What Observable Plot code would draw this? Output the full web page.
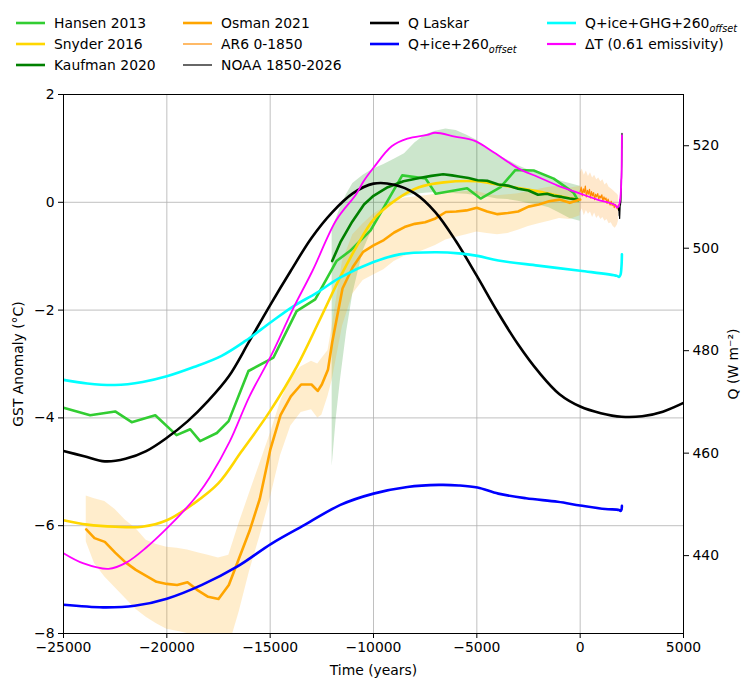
<!DOCTYPE html>
<html><head><meta charset="utf-8">
<script src="https://cdn.jsdelivr.net/npm/d3@7"></script>
<script src="https://cdn.jsdelivr.net/npm/@observablehq/plot@0.6"></script>
<style>
body{margin:0;background:#fff;font-family:"DejaVu Sans",sans-serif;}
#legend{position:relative;width:756px;height:80px;font-size:13.9px;color:#000;}
.item{position:absolute;display:flex;align-items:center;white-space:nowrap;height:20px;}
.item svg{margin-right:9px;flex:none}
.sub{font-size:9.7px;font-style:italic;position:relative;top:4px}
</style></head><body>
<div id="legend"></div><div id="chart"></div>
<script>
// ---------- data ----------
const xTicks = [-25000, -20000, -15000, -10000, -5000, 0, 5000];
const yTicks = [-8, -6, -4, -2, 0, 2];
const qTicks = [440, 460, 480, 500, 520];

const hansenT = [-25000,-23710,-22500,-21700,-20560,-19530,-18870,-18390,-17580,-17010,-16050,-14840,-13720,-12820,-11790,-11130,-10140,-8610,-7480,-6990,-5470,-4820,-3850,-3130,-2250,-1280,-320,-100];
const hansenV = [-3.81,-3.95,-3.88,-4.08,-3.95,-4.32,-4.21,-4.43,-4.28,-4.06,-3.13,-2.88,-2.02,-1.80,-1.09,-0.90,-0.52,0.50,0.44,0.16,0.26,0.07,0.28,0.60,0.59,0.44,0.18,0.03];

const snyderT = [-25000,-23850,-22500,-21200,-20000,-18700,-17500,-16400,-15000,-13700,-12600,-11600,-10800,-10000,-8900,-7800,-6600,-5000,-4000,-2000,-700,-100];
const snyderV = [-5.90,-5.98,-6.02,-6.02,-5.90,-5.59,-5.21,-4.63,-3.87,-3.04,-2.18,-1.38,-0.81,-0.32,0.05,0.28,0.37,0.39,0.33,0.20,0.09,0.05];

const kaufT = [-12000,-11600,-11030,-10460,-10000,-9310,-8550,-7780,-7200,-6630,-6200,-5870,-5400,-4970,-4500,-3960,-3500,-3000,-2500,-2040,-1600,-1280,-900,-510,-130];
const kaufV = [-1.09,-0.74,-0.36,-0.04,0.12,0.28,0.39,0.45,0.49,0.52,0.50,0.48,0.45,0.41,0.40,0.33,0.31,0.25,0.22,0.14,0.16,0.12,0.10,0.07,0.05];
const kaufBandT = [-12000,-11800,-11600,-11300,-11000,-10500,-10000,-9500,-9000,-8500,-8000,-7500,-7000,-6500,-6000,-5500,-5000,-4500,-4000,-3500,-3000,-2500,-2000,-1500,-1000,-500,0];
const kaufHi = [-0.50,-0.30,-0.10,0.15,0.35,0.50,0.62,0.70,0.80,0.90,1.10,1.25,1.32,1.36,1.33,1.25,1.15,1.00,0.88,0.78,0.68,0.60,0.52,0.45,0.40,0.35,0.30];
const kaufLo = [-4.90,-4.00,-3.30,-2.40,-1.70,-0.90,-0.45,-0.15,0.02,0.10,0.15,0.17,0.18,0.18,0.16,0.15,0.12,0.10,0.06,0.05,0.02,-0.02,-0.05,-0.10,-0.20,-0.30,-0.35];

const osmanT = [-23900,-23500,-23000,-22500,-22000,-21500,-21000,-20500,-20000,-19500,-19000,-18500,-18000,-17500,-17000,-16500,-16000,-15500,-15000,-14500,-14000,-13500,-13000,-12700,-12500,-12200,-12000,-11500,-11000,-10500,-10000,-9500,-9000,-8500,-8000,-7500,-7000,-6500,-6000,-5500,-5000,-4500,-4000,-3500,-3000,-2500,-2000,-1500,-1000,-500,0];
const osmanV = [-6.07,-6.23,-6.30,-6.50,-6.68,-6.82,-6.93,-7.04,-7.08,-7.10,-7.05,-7.20,-7.32,-7.36,-7.10,-6.60,-6.10,-5.50,-4.60,-3.95,-3.60,-3.38,-3.38,-3.50,-3.38,-3.10,-2.60,-1.60,-1.20,-0.92,-0.80,-0.70,-0.56,-0.46,-0.40,-0.37,-0.30,-0.18,-0.17,-0.15,-0.10,-0.17,-0.22,-0.20,-0.17,-0.08,-0.04,0.02,0.05,-0.01,0.05];
const osmanHi = [-5.45,-5.50,-5.55,-5.70,-5.90,-6.05,-6.27,-6.35,-6.40,-6.42,-6.45,-6.50,-6.55,-6.60,-6.55,-5.95,-5.40,-4.85,-4.30,-3.70,-3.25,-3.05,-2.95,-3.00,-2.90,-2.75,-2.30,-1.10,-0.60,-0.40,-0.22,-0.10,0.02,0.08,0.10,0.12,0.15,0.18,0.18,0.20,0.20,0.15,0.12,0.14,0.16,0.20,0.24,0.28,0.30,0.26,0.30];
const osmanLo = [-6.30,-6.70,-6.95,-7.15,-7.35,-7.55,-7.70,-7.82,-7.92,-7.96,-8.00,-8.10,-8.20,-8.30,-8.25,-7.60,-6.85,-6.20,-5.50,-4.70,-4.15,-3.90,-3.85,-4.00,-3.95,-3.60,-3.30,-2.30,-1.70,-1.45,-1.35,-1.25,-1.10,-1.00,-0.95,-0.88,-0.80,-0.70,-0.65,-0.60,-0.55,-0.58,-0.60,-0.58,-0.52,-0.45,-0.40,-0.35,-0.30,-0.32,-0.25];

const ar6T = [0,50,100,150,200,250,300,350,400,450,500,550,600,650,700,750,800,850,900,950,1000,1050,1100,1150,1200,1250,1300,1350,1400,1450,1500,1550,1600,1650,1700,1750,1800,1850];
const ar6V = [0.20,0.28,0.12,0.25,0.18,0.30,0.10,0.22,0.15,0.24,0.08,0.20,0.12,0.18,0.05,0.15,0.10,0.16,0.06,0.12,0.08,0.14,0.02,0.10,0.05,0.08,-0.02,0.06,0.00,-0.05,0.02,-0.06,-0.02,-0.10,-0.04,-0.08,-0.12,-0.05];
const ar6BandT = [0,100,200,300,400,500,600,700,800,900,1000,1100,1200,1300,1400,1500,1600,1700,1800,1850];
const ar6Hi = [0.55,0.62,0.50,0.58,0.48,0.55,0.45,0.50,0.42,0.45,0.38,0.42,0.32,0.36,0.28,0.25,0.22,0.18,0.15,0.12];
const ar6Lo = [-0.20,-0.12,-0.25,-0.15,-0.22,-0.18,-0.28,-0.20,-0.30,-0.25,-0.32,-0.28,-0.35,-0.32,-0.40,-0.38,-0.45,-0.48,-0.42,-0.35];

const noaaT = [1850,1860,1870,1880,1890,1900,1910,1920,1930,1940,1950,1960,1970,1980,1990,2000,2005,2010,2015,2016,2020,2023,2024];
const noaaV = [-0.12,-0.15,-0.10,-0.18,-0.25,-0.20,-0.30,-0.20,-0.10,0.05,-0.05,0.00,0.00,0.20,0.40,0.45,0.60,0.70,0.90,1.00,1.00,1.20,1.28];

// right-axis series (W m^-2)
const laskarT = [-25000,-24000,-23000,-22000,-21000,-20000,-19000,-18000,-17000,-16000,-15000,-14000,-13000,-12000,-11000,-10000,-9000,-8000,-7000,-6000,-5000,-4000,-3000,-2000,-1000,0,1000,2000,3000,4000,5000];
const laskarQ = [460.4,459.4,458.4,458.9,460.4,463.0,466.2,470.2,475.0,481.9,488.9,495.6,502.0,507.0,510.7,512.6,512.4,510.7,507.0,501.3,494.6,487.6,481.2,475.8,471.5,469.1,467.8,467.1,467.2,468.1,469.8];

const iceT = [-25000,-23090,-21560,-20000,-18300,-16580,-14950,-13330,-11600,-10000,-8360,-6830,-5870,-4970,-3960,-2620,-1090,0,1210,1880,1950,2000,2020];
const iceQ = [430.4,429.9,430.2,431.6,434.3,437.9,442.3,446.0,449.9,452.1,453.4,453.8,453.7,453.3,452.1,451.2,450.5,449.8,449.1,448.9,448.7,449.0,449.7];

const ghgT = [-25000,-23850,-22510,-21170,-20000,-18690,-17350,-16200,-14950,-13900,-12750,-11600,-10000,-8740,-7020,-5870,-4970,-3960,-2040,0,1780,1880,1950,2000,2020];
const ghgQ = [474.3,473.6,473.3,473.9,475.0,476.8,479.0,481.9,485.6,488.6,491.3,494.3,497.3,498.8,499.2,499.0,498.5,497.6,496.6,495.6,494.6,494.4,494.8,496.5,498.8];

// ΔT (°C, left axis)
const dtT = [-25000,-24030,-22820,-21940,-20980,-20000,-19070,-18500,-17920,-16960,-16000,-14950,-13900,-12950,-11800,-10840,-10480,-10000,-9120,-8360,-7400,-7020,-6060,-5100,-4150,-3000,-2040,-1090,-130,830,1690,1790,1880,1950,2000,2020];
const dtV = [-6.51,-6.70,-6.80,-6.68,-6.40,-6.05,-5.68,-5.42,-5.10,-4.44,-3.60,-2.84,-1.98,-1.27,-0.33,0.15,0.39,0.64,1.04,1.18,1.25,1.29,1.22,1.14,0.92,0.63,0.47,0.31,0.18,0.05,-0.05,-0.10,-0.05,0.10,0.50,1.24];

// ---------- helpers ----------
const Y0 = -8, Y1 = 2, Q0 = 424.8, Q1 = 530.0;
const qToY = q => Y0 + (q - Q0) / (Q1 - Q0) * (Y1 - Y0);
const yToQ = y => Q0 + (y - Y0) / (Y1 - Y0) * (Q1 - Q0);
const rows = (T, V) => T.map((t, i) => ({t, v: V[i]}));
const qrows = (T, Q) => T.map((t, i) => ({t, v: qToY(Q[i])}));
const band = (T, lo, hi) => T.map((t, i) => ({t, lo: lo[i], hi: hi[i]}));
const minus = d => d < 0 ? "\u2212" + Math.abs(d) : String(d);

const C = {hansen:"#32cd32", snyder:"#ffd700", kauf:"#008000", osman:"#ffa500", ar6:"#ff8c00", noaa:"#000000", laskar:"#000000", ice:"#0000ff", ghg:"#00ffff", dt:"#ff00ff"};
const W = 2.6;

const line = (data, color, w, curve = "linear") => Plot.line(data, {x: "t", y: "v", stroke: color, strokeWidth: w, curve, clip: true});
const area = (data, color) => Plot.areaY(data, {x: "t", y1: "lo", y2: "hi", fill: color, fillOpacity: 0.2, clip: true});

const chart = Plot.plot({
  width: 756, height: 606,
  marginTop: 14, marginBottom: 53, marginLeft: 63, marginRight: 73,
  x: {domain: [-25000, 5000]},
  y: {domain: [Y0, Y1]},
  style: {fontFamily: "DejaVu Sans", fontSize: "13.9px", background: "white", color: "black", overflow: "visible"},
  marks: [
    Plot.gridX(xTicks, {stroke: "#b0b0b0", strokeOpacity: 1, strokeWidth: 0.8}),
    Plot.gridY(yTicks, {stroke: "#b0b0b0", strokeOpacity: 1, strokeWidth: 0.8}),
    area(band(kaufBandT, kaufLo, kaufHi), C.kauf),
    area(band(osmanT, osmanLo, osmanHi), C.osman),
    area(band(ar6BandT, ar6Lo, ar6Hi), C.ar6),
    line(rows(hansenT, hansenV), C.hansen, W),
    line(rows(snyderT, snyderV), C.snyder, W, "catmull-rom"),
    line(rows(kaufT, kaufV), C.kauf, W),
    line(rows(osmanT, osmanV), C.osman, W),
    line(rows(ar6T, ar6V), C.ar6, 1.2),
    line(rows(noaaT, noaaV), C.noaa, 1.2),
    line(qrows(laskarT, laskarQ), C.laskar, W, "catmull-rom"),
    line(qrows(iceT, iceQ), C.ice, W, "catmull-rom"),
    line(qrows(ghgT, ghgQ), C.ghg, W, "catmull-rom"),
    line(rows(dtT, dtV), C.dt, 1.8, "catmull-rom"),
    Plot.frame({stroke: "black", strokeWidth: 1}),
    Plot.axisX(xTicks, {tickFormat: minus, tickSize: 5, tickPadding: 4, label: "Time (years)", labelAnchor: "center", labelOffset: 41, labelArrow: "none"}),
    Plot.axisY(yTicks, {anchor: "left", tickFormat: minus, tickSize: 5, tickPadding: 4, label: "GST Anomaly (°C)", labelAnchor: "center", labelOffset: 50, labelArrow: "none"}),
    Plot.axisY(qTicks.map(qToY), {anchor: "right", tickFormat: d => String(Math.round(yToQ(d))), tickSize: 5, tickPadding: 4, label: "Q (W m\u207B\u00B2)", labelAnchor: "center", labelOffset: 54, labelArrow: "none"})
  ]
});
document.getElementById("chart").appendChild(chart);

// ---------- legend ----------
const legendItems = [
  {label: "Hansen 2013", color: C.hansen, w: W, col: 0, row: 0},
  {label: "Snyder 2016", color: C.snyder, w: W, col: 0, row: 1},
  {label: "Kaufman 2020", color: C.kauf, w: W, col: 0, row: 2},
  {label: "Osman 2021", color: C.osman, w: W, col: 1, row: 0},
  {label: "AR6 0-1850", color: C.ar6, w: 1.2, col: 1, row: 1},
  {label: "NOAA 1850-2026", color: C.noaa, w: 1.2, col: 1, row: 2},
  {label: "Q Laskar", color: C.laskar, w: W, col: 2, row: 0},
  {label: "Q+ice+260", sub: "offset", color: C.ice, w: W, col: 2, row: 1},
  {label: "Q+ice+GHG+260", sub: "offset", color: C.ghg, w: W, col: 3, row: 0},
  {label: "\u0394T (0.61 emissivity)", color: C.dt, w: 2.2, col: 3, row: 1}
];
const colX = [16, 183, 370, 547];
const rowY = [23, 44, 65];
const lg = document.getElementById("legend");
for (const it of legendItems) {
  const d = document.createElement("div");
  d.className = "item";
  d.style.left = colX[it.col] + "px";
  d.style.top = (rowY[it.row] - 10) + "px";
  d.innerHTML = `<svg width="29" height="10"><line x1="0" x2="29" y1="5" y2="5" stroke="${it.color}" stroke-width="${it.w}"/></svg><span>${it.label}${it.sub ? `<span class="sub">${it.sub}</span>` : ""}</span>`;
  lg.appendChild(d);
}
</script></body></html>
